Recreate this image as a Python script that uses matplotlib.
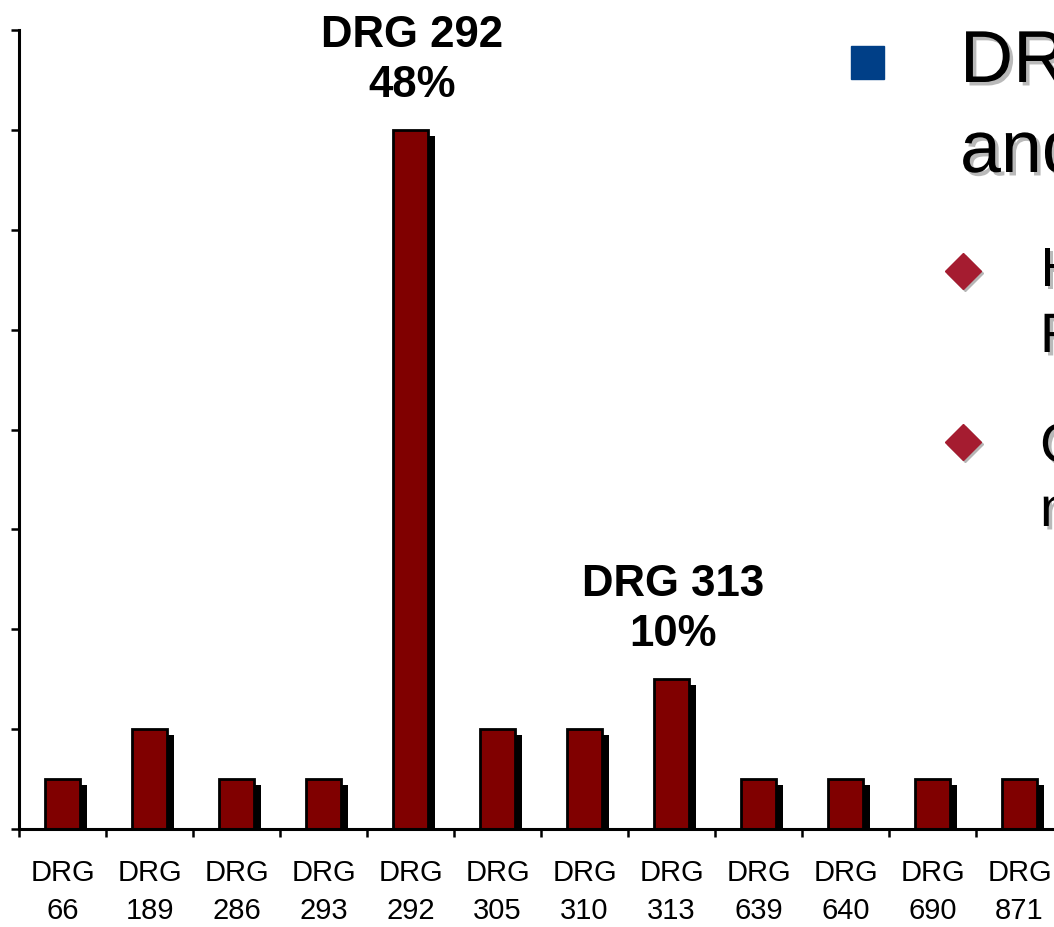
import numpy as np
import matplotlib.pyplot as plt
import matplotlib.patheffects as pe
from matplotlib.transforms import ScaledTranslation
from matplotlib.patches import Rectangle
from matplotlib.lines import Line2D

plt.rcParams['font.family'] = ['Liberation Sans', 'DejaVu Sans']

# Share of cases per DRG (%)
drgs = ['66', '189', '286', '293', '292', '305', '310', '313', '639', '640', '690', '871']
shares = [3.45, 6.9, 3.45, 3.45, 48.3, 6.9, 6.9, 10.35, 3.45, 3.45, 3.45, 3.45]
callouts = ['292', '313']
tick_step = 6.9

W, H = 1054, 928
fig = plt.figure(figsize=(W / 100, H / 100), dpi=100)
ax = fig.add_axes([19 / W, (H - 830) / H, 1044 / W, 799 / H])

x = np.arange(len(drgs))

# drop shadow behind each bar
shadow = ax.transData + ScaledTranslation(7 / 100, -6 / 100, fig.dpi_scale_trans)
ax.bar(x, shares, width=0.4, color='black', transform=shadow, zorder=1)
ax.bar(x, shares, width=0.4, color='#800000', edgecolor='black', linewidth=2, zorder=2)

ax.set_xlim(-0.5, len(drgs) - 0.5)
ax.set_ylim(0, tick_step * 8)
ax.set_yticks(np.arange(0, tick_step * 8 + 0.01, tick_step))
ax.set_yticklabels([])
ax.tick_params(axis='y', direction='out', length=6, width=1.8, color='black')

ax.set_xticks(x)
ax.set_xticklabels(['DRG\n' + d for d in drgs], fontsize=21, linespacing=1.45)
ax.set_xticks(np.arange(-0.5, len(drgs), 1), minor=True)
ax.tick_params(axis='x', which='major', length=0, pad=21)
ax.tick_params(axis='x', which='minor', direction='out', length=6, width=1.8)

for s in ['top', 'right']:
    ax.spines[s].set_visible(False)
for s in ['left', 'bottom']:
    ax.spines[s].set_linewidth(2.2)
    ax.spines[s].set_zorder(3)

# callouts above the tallest bars
for d in callouts:
    i = drgs.index(d)
    ax.annotate(f'DRG {d}\n{shares[i]:.0f}%', xy=(i, shares[i]),
                xytext=(2, 25), textcoords='offset pixels',
                ha='center', va='bottom', fontsize=31.5, fontweight='bold',
                linespacing=1.28, annotation_clip=False)

# slide bullets on the right
def fx(px):
    return px / W

def fy(py):
    return 1 - py / H

fig.add_artist(Rectangle((fx(854), fy(83)), 33 / W, 33 / H, color='#b5b5b5',
                         transform=fig.transFigure, zorder=0))
fig.add_artist(Rectangle((fx(851), fy(80)), 33 / W, 33 / H, color='#003f87',
                         transform=fig.transFigure))

shade = [pe.SimplePatchShadow(offset=(2.5, -2.5), shadow_rgbFace='#a8a8a8', alpha=0.8), pe.Normal()]
fig.text(fx(960), fy(83), 'DRG', fontsize=53, va='baseline', ha='left', path_effects=shade)
fig.text(fx(960), fy(173), 'and', fontsize=53, va='baseline', ha='left', path_effects=shade)

for cy in [272, 443]:
    fig.add_artist(Line2D([fx(965)], [fy(cy + 2)], marker='D', markersize=18,
                          color='#b5b5b5', linestyle='none', transform=fig.transFigure))
    fig.add_artist(Line2D([fx(963)], [fy(cy)], marker='D', markersize=18,
                          color='#a51c30', linestyle='none', transform=fig.transFigure))

bullet_lines = [('H', 287), ('R', 353), ('C', 463), ('n', 527)]
for t, by in bullet_lines:
    fig.text(fx(1040), fy(by), t, fontsize=40, va='baseline', ha='left', path_effects=shade)

fig.savefig('out.png', dpi=100)
